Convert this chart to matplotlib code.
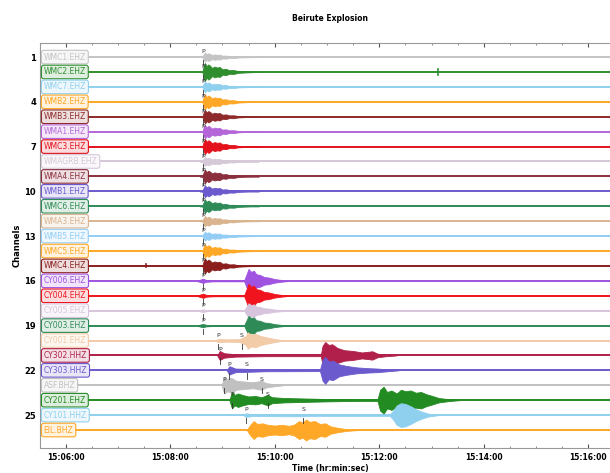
import numpy as np
import matplotlib
matplotlib.use('Agg')
import matplotlib.pyplot as plt
from matplotlib.ticker import MultipleLocator, FuncFormatter
from matplotlib.colors import to_rgb

# station names, top to bottom
stations = ['WMC1.EHZ', 'WMC2.EHZ', 'WMC7.EHZ', 'WMB2.EHZ', 'WMB3.EHZ', 'WMA1.EHZ',
            'WMC3.EHZ', 'WMAGRB.EHZ', 'WMA4.EHZ', 'WMB1.EHZ', 'WMC6.EHZ', 'WMA3.EHZ',
            'WMB5.EHZ', 'WMC5.EHZ', 'WMC4.EHZ', 'CY006.EHZ', 'CY004.EHZ', 'CY005.EHZ',
            'CY003.EHZ', 'CY001.EHZ', 'CY302.HHZ', 'CY303.HHZ', 'ASF.BHZ', 'CY201.EHZ',
            'CY101.HHZ', 'EIL.BHZ']
colors = ['#c4c4c4', '#2f8f2f', '#8fd0ee', '#ffa726', '#8e2a2a', '#b466d8',
          '#e3121c', '#d5c9d8', '#8c2f3c', '#6a5acd', '#2e8b57', '#d9b48f',
          '#93cdf5', '#ffa726', '#8b1d1d', '#a053e0', '#f0141e', '#d8c4dc',
          '#2e8b57', '#f2cba8', '#b0204a', '#6a5acd', '#c0c0c0', '#228b22',
          '#8fd0ee', '#ffa726']

# seconds after 15:06:00
t0 = 15 * 3600 + 6 * 60

# near stations (rows 1-15): common envelope shape, per-row peak amplitude
near_t = [154, 157, 158, 160, 162, 164, 166, 168, 171, 174, 177, 180, 184, 188,
          193, 198, 205, 214, 222]
near_a = [0, 0, 0.45, 1.0, 0.65, 0.85, 0.7, 0.45, 0.6, 0.5, 0.55, 0.3, 0.35, 0.2,
          0.22, 0.1, 0.06, 0.02, 0]
near_amp = [0.3, 0.6, 0.35, 0.5, 0.45, 0.45, 0.5, 0.3, 0.45, 0.4, 0.45, 0.35, 0.3, 0.45, 0.5]

# Cyprus short-period stations (rows 16-19)
cy_t = [150, 158, 161, 170, 205, 208, 210, 213, 216, 219, 223, 228, 233, 240, 248, 258]
cy_a = [0, 0.18, 0.08, 0.04, 0.04, 0.6, 1.0, 0.75, 0.85, 0.55, 0.5, 0.32, 0.28, 0.15, 0.07, 0]
cy_amp = [0.8, 0.8, 0.5, 0.65]

# far stations (rows 20-26), envelope read point by point
far_t = [
    [172, 175, 185, 200, 207, 209, 213, 218, 224, 232, 242, 252],
    [174, 177, 182, 195, 230, 293, 295, 298, 302, 306, 312, 320, 330, 340, 348, 352, 358, 368, 380],
    [185, 188, 195, 208, 230, 292, 295, 298, 302, 307, 314, 322, 334, 346, 358, 372, 382],
    [179, 182, 186, 190, 196, 205, 215, 225, 230, 240, 250],
    [188, 191, 194, 198, 203, 210, 218, 225, 232, 237, 250, 270, 300, 330, 358, 361, 365,
     369, 374, 380, 385, 390, 396, 402, 408, 414, 420, 428, 440, 452],
    [204, 207, 215, 272, 280, 372, 376, 380, 385, 390, 396, 402, 408, 416, 428],
    [208, 212, 216, 220, 226, 232, 240, 248, 256, 262, 268, 272, 276, 280, 286, 292, 298,
     304, 312, 322, 336],
]
far_a = [
    [0, 0.12, 0.08, 0.1, 0.3, 0.55, 0.4, 0.45, 0.3, 0.2, 0.08, 0],
    [0, 0.3, 0.15, 0.08, 0.05, 0.05, 0.65, 0.9, 0.7, 0.75, 0.5, 0.35, 0.3, 0.2, 0.25,
     0.28, 0.12, 0.05, 0],
    [0, 0.28, 0.12, 0.1, 0.06, 0.05, 0.7, 0.9, 0.6, 0.65, 0.4, 0.3, 0.2, 0.15, 0.12, 0.05, 0],
    [0, 0.55, 0.4, 0.5, 0.3, 0.25, 0.2, 0.3, 0.15, 0.06, 0],
    [0, 0.55, 0.35, 0.45, 0.35, 0.25, 0.28, 0.2, 0.35, 0.2, 0.15, 0.12, 0.08, 0.05, 0.05,
     0.7, 0.9, 0.55, 0.65, 0.45, 0.7, 0.6, 0.65, 0.5, 0.55, 0.4, 0.3, 0.15, 0.06, 0],
    [0, 0.12, 0.06, 0.08, 0.05, 0.05, 0.3, 0.65, 0.8, 0.75, 0.6, 0.4, 0.25, 0.1, 0],
    [0, 0.35, 0.6, 0.4, 0.45, 0.35, 0.3, 0.35, 0.28, 0.35, 0.6, 0.5, 0.7, 0.55, 0.6,
     0.4, 0.45, 0.25, 0.15, 0.06, 0],
]

# isolated spikes (row, time, amplitude)
spikes = [(2, 427, 0.22), (15, 92, 0.1)]

# phase picks (row, time, phase)
picks = [(r, 158, 'P') for r in range(1, 20)] + [
    (20, 175, 'P'), (20, 202, 'S'), (21, 177, 'P'), (22, 188, 'P'), (22, 208, 'S'),
    (23, 182, 'P'), (23, 225, 'S'), (24, 191, 'P'), (24, 232, 'S'),
    (25, 207, 'P'), (25, 273, 'S')]

envelopes = []
for a in near_amp:
    envelopes.append((near_t, [v * a for v in near_a]))
for a in cy_amp:
    envelopes.append((cy_t, [v * a for v in cy_a]))
for tt, aa in zip(far_t, far_a):
    envelopes.append((tt, aa))

fig = plt.figure(figsize=(6.1, 4.73), dpi=100)
ax = fig.add_axes([0.066, 0.053, 0.95, 0.856])

xmin, xmax = t0 - 29, t0 + 636
for i, name in enumerate(stations):
    row = i + 1
    c = colors[i]
    ax.plot([xmin, xmax], [row, row], color=c, lw=1.4, zorder=2)
    tt = np.array(envelopes[i][0]) + t0
    aa = np.array(envelopes[i][1])
    ax.fill_between(tt, row - aa, row + aa, color=c, lw=0.6, zorder=3)
    rgb = np.array(to_rgb(c))
    face = 0.85 + 0.15 * rgb
    ax.text(0.006, row, name, transform=ax.get_yaxis_transform(), fontsize=5.5,
            color=c, va='center', ha='left', zorder=5,
            bbox=dict(boxstyle='round,pad=0.3', fc=face, ec=c, lw=0.8))

for row, t, a in spikes:
    ax.plot([t0 + t, t0 + t], [row - a, row + a], color=colors[row - 1], lw=1.2, zorder=3)

for row, t, ph in picks:
    ax.plot([t0 + t, t0 + t], [row + 0.2, row + 0.55], color='#333333', lw=0.6, zorder=4)
    ax.text(t0 + t, row - 0.2, ph, fontsize=4.5, color='#333333', ha='center',
            va='bottom', zorder=4)

ax.set_xlim(xmin, xmax)
ax.set_ylim(27.2, 0.06)
ax.set_yticks(range(1, 27, 3))
ax.xaxis.set_major_locator(MultipleLocator(120))
ax.xaxis.set_minor_locator(MultipleLocator(30))


def hms(x, pos):
    x = int(round(x))
    return '%02d:%02d:%02d' % (x // 3600, (x % 3600) // 60, x % 60)


ax.xaxis.set_major_formatter(FuncFormatter(hms))
ax.tick_params(axis='x', top=True, direction='in', labelsize=5.5, pad=4, colors='#555555',
               labelcolor='black', length=3)
ax.tick_params(axis='x', which='minor', top=True, direction='in', length=1.5, colors='#777777')
ax.tick_params(axis='y', labelsize=6, pad=3, length=0)
for lab in ax.get_xticklabels() + ax.get_yticklabels():
    lab.set_fontweight('bold')
for s in ['left', 'bottom', 'top']:
    ax.spines[s].set_color('#999999')
    ax.spines[s].set_linewidth(0.8)
ax.spines['right'].set_visible(False)

ax.set_xlabel('Time (hr:min:sec)', fontsize=5.5, fontweight='bold', labelpad=1)
ax.set_ylabel('Channels', fontsize=6, fontweight='bold', labelpad=2)
ax.set_title('Beirute Explosion', fontsize=5.5, fontweight='bold', pad=16)

plt.savefig('out.png', dpi=100)
